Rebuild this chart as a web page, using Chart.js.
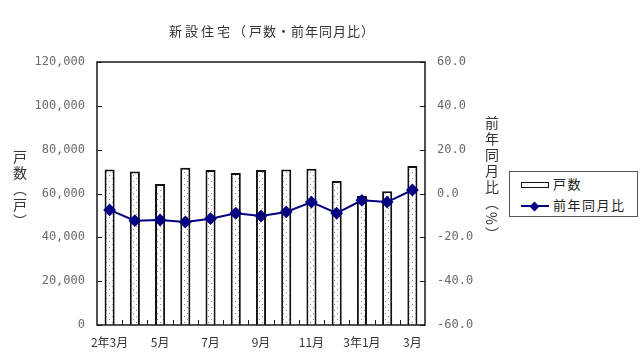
<!DOCTYPE html>
<html><head><meta charset="utf-8">
<script src="https://cdn.jsdelivr.net/npm/chart.js@4"></script>
<style>
html,body{margin:0;padding:0;background:#fff;}
#wrap{position:relative;width:640px;height:357px;}
canvas{position:absolute;left:0;top:0;}
.t{position:absolute;font-family:"Noto Sans CJK JP",sans-serif;color:#333;white-space:nowrap;}
.v{writing-mode:vertical-rl;letter-spacing:2px;font-size:14px;}
#legend{position:absolute;left:509px;top:171px;width:127px;height:44px;border:1px solid #555;background:#fff;font-family:"Noto Sans CJK JP",sans-serif;font-size:13px;color:#222;letter-spacing:1.5px;}
.row{position:absolute;left:11px;height:18px;line-height:18px;}
.sw{position:absolute;left:0;width:26px;height:4px;border:1px solid #111;background:#fff;}
.ln{position:absolute;left:0;width:28px;height:2px;background:#000080;}
.dm{position:absolute;width:7px;height:7px;background:#000080;transform:rotate(45deg);}
.lt{position:absolute;left:32px;top:0;}
</style></head>
<body><div id="wrap">
<canvas id="c" width="640" height="357"></canvas>
<div class="t" style="left:169px;top:21px;font-size:13px;letter-spacing:3px;">新設住宅（</div>
<div class="t" style="left:249px;top:21px;font-size:13px;letter-spacing:1px;">戸数・前年同月比）</div>
<div class="t v" style="left:10px;top:150px;">戸数（戸）</div>
<div class="t v" style="left:482px;top:116px;">前年同月比（%）</div>
<div id="legend">
 <div class="row" style="top:3px;width:110px;"><div class="sw" style="top:7px;"></div><span class="lt">戸数</span></div>
 <div class="row" style="top:24px;width:110px;"><div class="ln" style="top:9px;"></div><div class="dm" style="left:10px;top:6.5px;"></div><span class="lt">前年同月比</span></div>
</div>
</div>
<script>
const categories = ["2年3月","4月","5月","6月","7月","8月","9月","10月","11月","12月","3年1月","2月","3月"];
const housingUnits = [71000, 70000, 64300, 71800, 70700, 69300, 70700, 71000, 71300, 65700, 58900, 61000, 72500];
const yoyChange = [-7.5, -12.4, -12.1, -13.0, -11.5, -9.0, -10.3, -8.4, -3.9, -9.0, -3.1, -3.9, 1.6];
const leftTicks = [0, 20000, 40000, 60000, 80000, 100000, 120000];
const rightTicks = [-60, -40, -20, 0, 20, 40, 60];

function dotPattern(){
  const p = document.createElement('canvas'); p.width = 6; p.height = 6;
  const g = p.getContext('2d');
  g.fillStyle = '#fff'; g.fillRect(0,0,6,6);
  g.fillStyle = '#8a8a8a'; g.fillRect(1,1,1,1); g.fillRect(4,4,1,1);
  return document.getElementById('c').getContext('2d').createPattern(p,'repeat');
}

const frame = {
  id:'frame',
  afterDatasetsDraw(chart){
    const {ctx, chartArea:a, scales} = chart;
    ctx.save();
    ctx.strokeStyle = '#1a1a1a'; ctx.lineWidth = 1.5;
    ctx.strokeRect(a.left, a.top, a.right-a.left, a.bottom-a.top);
    ctx.lineWidth = 1;
    ctx.beginPath();
    leftTicks.forEach(v=>{const y=Math.round(scales.y.getPixelForValue(v))+0.5; ctx.moveTo(a.left, y); ctx.lineTo(a.left+5, y);});
    rightTicks.forEach(v=>{const y=Math.round(scales.y1.getPixelForValue(v))+0.5; ctx.moveTo(a.right-5, y); ctx.lineTo(a.right, y);});
    const n = categories.length;
    for(let i=1;i<n;i++){
      const x = Math.round((scales.x.getPixelForValue(i-1)+scales.x.getPixelForValue(i))/2)+0.5;
      ctx.moveTo(x, a.bottom); ctx.lineTo(x, a.bottom-5);
    }
    ctx.stroke();
    ctx.restore();
  }
};

const tickFont = {family:'"DejaVu Sans Mono","Noto Sans CJK JP",monospace', size:12};
new Chart(document.getElementById('c'), {
  data:{
    labels: categories,
    datasets:[
      {type:'line', label:'前年同月比', data: yoyChange, yAxisID:'y1', borderColor:'#000080', backgroundColor:'#000080', borderWidth:2, pointStyle:'rectRot', pointRadius:5, pointBackgroundColor:'#000080', pointBorderColor:'#000080', tension:0, order:0},
      {type:'bar', label:'戸数', data: housingUnits, yAxisID:'y', backgroundColor: dotPattern(), borderColor:'#111', borderWidth:2, categoryPercentage:1, barPercentage:0.4, order:1}
    ]
  },
  options:{
    responsive:false, animation:false, maintainAspectRatio:false,
    layout:{padding:{top:62,left:0,right:140,bottom:0}},
    plugins:{legend:{display:false}, title:{display:false}, tooltip:{enabled:false}},
    scales:{
      x:{grid:{display:false, drawTicks:false}, border:{display:false},
         ticks:{autoSkip:false, maxRotation:0, padding:10, color:'#333', font:{family:'"Noto Sans CJK JP",sans-serif', size:12},
           callback:(v,i)=> i%2===0 ? categories[i] : ''},
         afterFit:s=>{s.height=32;}},
      y:{position:'left', min:0, max:120000, grid:{display:false, drawTicks:false}, border:{display:false},
         afterBuildTicks:s=>{s.ticks = leftTicks.map(v=>({value:v}));},
         ticks:{padding:12, color:'#6a6a6a', font:tickFont, callback:v=>v.toLocaleString('en-US')},
         afterFit:s=>{s.width=97;}},
      y1:{position:'right', min:-60, max:60, grid:{display:false, drawTicks:false}, border:{display:false},
         afterBuildTicks:s=>{s.ticks = rightTicks.map(v=>({value:v}));},
         ticks:{padding:12, color:'#6a6a6a', font:tickFont, callback:v=>Number(v).toFixed(1)},
         afterFit:s=>{s.width=75;}}
    }
  },
  plugins:[frame]
});
</script>
</body></html>
